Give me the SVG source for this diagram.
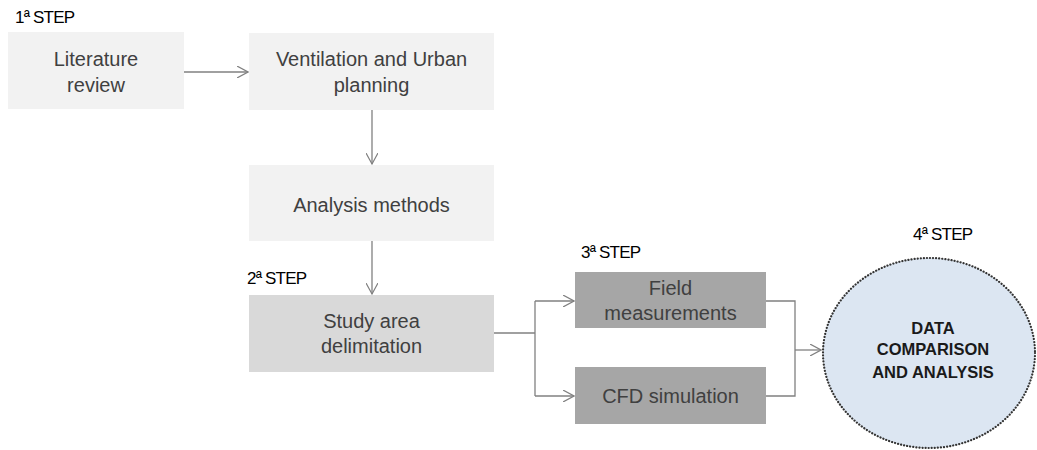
<svg xmlns="http://www.w3.org/2000/svg" width="1037" height="450" viewBox="0 0 1037 450">
<style>
.t{font-family:"Liberation Sans",Arial,sans-serif;font-size:20px;fill:#404040;text-anchor:middle}
.s{font-family:"Liberation Sans",Arial,sans-serif;font-size:17px;fill:#000;letter-spacing:-0.8px}
.b{font-family:"Liberation Sans",Arial,sans-serif;font-size:16.5px;font-weight:bold;fill:#1a1a1a;text-anchor:middle}
.l{fill:#f2f2f2}
.m{fill:#d9d9d9}
.d{fill:#a6a6a6}
.c{fill:none;stroke:#808080;stroke-width:1.3}
</style>
<defs>
<marker id="ah" viewBox="0 0 12 12" refX="11" refY="6" markerWidth="12" markerHeight="12" markerUnits="userSpaceOnUse" orient="auto">
<path d="M0,0 L11,6 L0,12" fill="none" stroke="#808080" stroke-width="1.2"/>
</marker>
</defs>
<rect width="1037" height="450" fill="#fff"/>
<text class="s" x="15" y="23">1ª STEP</text>
<text class="s" x="247" y="284">2ª STEP</text>
<text class="s" x="581" y="258">3ª STEP</text>
<text class="s" x="913" y="240">4ª STEP</text>
<g id="connectors">
<path class="c" d="M184,72 H248" marker-end="url(#ah)"/>
<path class="c" d="M372,110 V164" marker-end="url(#ah)"/>
<path class="c" d="M372,241 V294" marker-end="url(#ah)"/>
<path class="c" d="M494,333 H535"/>
<path class="c" d="M535,301 V396"/>
<path class="c" d="M535,301 H574" marker-end="url(#ah)"/>
<path class="c" d="M535,396 H574" marker-end="url(#ah)"/>
<path class="c" d="M766,301 H795 V396 H766"/>
<path class="c" d="M795,350 H821" marker-end="url(#ah)"/>
</g>
<g id="literature">
<rect class="l" x="8" y="32" width="176" height="77"/>
<text class="t" x="96" y="66">Literature</text>
<text class="t" x="96" y="92">review</text>
</g>
<g id="ventilation">
<rect class="l" x="249" y="33" width="245" height="77"/>
<text class="t" x="371.5" y="66">Ventilation and Urban</text>
<text class="t" x="371.5" y="92">planning</text>
</g>
<g id="analysis">
<rect class="l" x="249" y="165" width="245" height="76"/>
<text class="t" x="371.5" y="212">Analysis methods</text>
</g>
<g id="study">
<rect class="m" x="249" y="295" width="245" height="77"/>
<text class="t" x="371.5" y="328">Study area</text>
<text class="t" x="371.5" y="353">delimitation</text>
</g>
<g id="field">
<rect class="d" x="575" y="272" width="191" height="56"/>
<text class="t" x="670.5" y="295">Field</text>
<text class="t" x="670.5" y="320">measurements</text>
</g>
<g id="cfd">
<rect class="d" x="575" y="367" width="191" height="57"/>
<text class="t" x="670.5" y="403">CFD simulation</text>
</g>
<g id="data">
<ellipse cx="929" cy="353" rx="106" ry="95" fill="#dce6f2" stroke="#333" stroke-width="2.2" stroke-dasharray="0.1 3" stroke-linecap="round"/>
<text class="b" x="933" y="334">DATA</text>
<text class="b" x="933" y="355">COMPARISON</text>
<text class="b" x="933" y="378">AND ANALYSIS</text>
</g>
</svg>
